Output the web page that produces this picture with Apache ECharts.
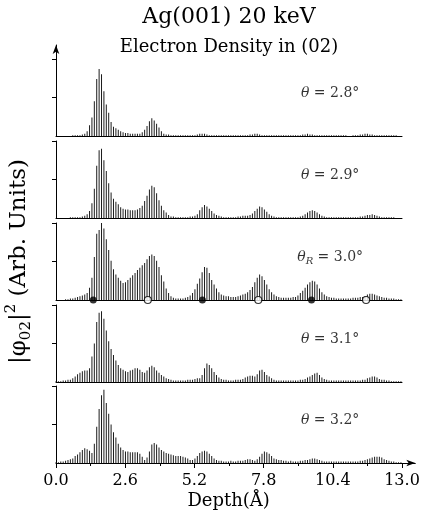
<!DOCTYPE html>
<html>
<head>
<meta charset="utf-8">
<script src="https://cdn.jsdelivr.net/npm/echarts@6/dist/echarts.min.js"></script>
<style>
  html, body { margin: 0; padding: 0; background: #fff; }
  #chart { width: 422px; height: 514px; }
</style>
</head>
<body>
<div id="chart"></div>
<script>
// sample spacing along depth (Å)
const depthStep = 0.09;

// |phi_02|^2 per panel (one bar every depthStep)
const theta28 = [
  0,0,0,0,0,0,0,0.01,0.01,0.01,
  0.01,0.02,0.03,0.06,0.14,0.24,0.45,0.74,0.87,0.80,
  0.58,0.41,0.30,0.18,0.12,0.10,0.08,0.06,0.05,0.04,
  0.04,0.03,0.03,0.03,0.03,0.03,0.05,0.08,0.13,0.19,
  0.23,0.20,0.16,0.11,0.06,0.03,0.02,0.02,0.01,0.01,
  0.01,0.01,0.01,0.01,0.01,0.01,0.01,0.01,0.01,0.02,
  0.03,0.03,0.03,0.02,0.01,0.01,0.01,0.01,0.01,0.01,
  0.01,0.01,0.01,0.01,0.01,0.01,0.01,0.01,0.01,0.01,
  0.01,0.02,0.02,0.03,0.03,0.02,0.01,0.01,0.01,0.01,
  0.01,0.01,0.01,0.01,0.01,0.01,0.01,0.01,0.01,0.01,
  0.01,0.01,0.01,0.02,0.02,0.03,0.02,0.02,0.01,0.01,
  0.01,0.01,0.01,0.01,0.01,0.01,0.01,0.01,0.01,0.01,
  0.01,0.01,0,0,0.01,0.01,0.01,0.02,0.02,0.03,
  0.03,0.02,0.02,0.01,0.01,0.01,0.01,0.01,0.01,0.01,
  0.01,0.01,0.01,0,0
];
const theta29 = [
  0,0,0,0,0,0,0.01,0.01,0.01,0.01,
  0.01,0.02,0.03,0.05,0.09,0.19,0.38,0.68,0.88,0.90,
  0.75,0.61,0.45,0.33,0.25,0.21,0.18,0.14,0.12,0.11,
  0.11,0.10,0.10,0.10,0.11,0.13,0.16,0.22,0.29,0.37,
  0.42,0.40,0.32,0.23,0.16,0.10,0.07,0.04,0.02,0.02,
  0.01,0.01,0.01,0.01,0.01,0.01,0.02,0.02,0.03,0.05,
  0.10,0.14,0.17,0.15,0.12,0.09,0.06,0.04,0.03,0.02,
  0.01,0.01,0.01,0.01,0.01,0.01,0.02,0.02,0.03,0.03,
  0.03,0.04,0.06,0.09,0.12,0.15,0.14,0.11,0.08,0.05,
  0.03,0.02,0.01,0.01,0.01,0.01,0.01,0.01,0.01,0.01,
  0.01,0.01,0.02,0.03,0.05,0.07,0.09,0.10,0.09,0.07,
  0.05,0.03,0.02,0.01,0.01,0.01,0.01,0.01,0.01,0.01,
  0.01,0.01,0.01,0.01,0.01,0.01,0.01,0.02,0.02,0.03,
  0.04,0.04,0.05,0.04,0.03,0.02,0.01,0.01,0.01,0.01,
  0.01,0.01,0,0,0
];
const theta30 = [
  0,0,0,0,0.01,0.01,0.02,0.02,0.03,0.04,
  0.05,0.06,0.07,0.09,0.16,0.29,0.56,0.86,0.91,1.0,
  0.93,0.79,0.65,0.51,0.40,0.33,0.29,0.25,0.22,0.23,
  0.26,0.29,0.32,0.35,0.39,0.42,0.45,0.48,0.53,0.57,
  0.59,0.57,0.51,0.43,0.32,0.24,0.15,0.09,0.05,0.03,
  0.02,0.02,0.02,0.02,0.03,0.04,0.06,0.09,0.14,0.21,
  0.28,0.36,0.43,0.42,0.35,0.26,0.20,0.15,0.10,0.07,
  0.06,0.05,0.05,0.04,0.04,0.04,0.05,0.06,0.07,0.08,
  0.10,0.13,0.17,0.23,0.29,0.33,0.31,0.26,0.20,0.14,
  0.10,0.07,0.05,0.04,0.03,0.03,0.03,0.03,0.03,0.04,
  0.04,0.06,0.09,0.12,0.16,0.20,0.23,0.25,0.24,0.20,
  0.15,0.10,0.07,0.05,0.04,0.03,0.03,0.02,0.02,0.02,
  0.02,0.02,0.02,0.02,0.03,0.03,0.03,0.04,0.04,0.05,
  0.07,0.08,0.08,0.07,0.06,0.05,0.04,0.03,0.03,0.02,
  0.02,0.02,0.01,0.01,0.01
];
const theta31 = [
  0.01,0.01,0.01,0.02,0.02,0.03,0.03,0.05,0.07,0.10,
  0.12,0.14,0.15,0.15,0.18,0.33,0.50,0.78,0.90,0.92,
  0.82,0.67,0.53,0.43,0.35,0.28,0.22,0.18,0.16,0.14,
  0.13,0.15,0.16,0.18,0.18,0.16,0.13,0.12,0.15,0.19,
  0.21,0.19,0.15,0.12,0.09,0.07,0.05,0.04,0.03,0.02,
  0.02,0.02,0.02,0.02,0.02,0.03,0.03,0.03,0.04,0.05,
  0.05,0.09,0.18,0.24,0.22,0.18,0.13,0.09,0.06,0.04,
  0.03,0.03,0.02,0.02,0.02,0.03,0.03,0.03,0.04,0.06,
  0.07,0.08,0.08,0.07,0.10,0.15,0.16,0.13,0.09,0.07,
  0.05,0.03,0.02,0.02,0.02,0.02,0.02,0.02,0.02,0.02,
  0.02,0.02,0.03,0.03,0.04,0.06,0.07,0.09,0.11,0.12,
  0.09,0.06,0.04,0.03,0.02,0.02,0.02,0.02,0.02,0.02,
  0.02,0.02,0.02,0.02,0.02,0.02,0.02,0.02,0.03,0.03,
  0.05,0.06,0.07,0.07,0.06,0.04,0.03,0.03,0.02,0.02,
  0.01,0.01,0.01,0.01,0.01
];
const theta32 = [
  0.01,0.01,0.02,0.02,0.03,0.04,0.05,0.06,0.09,0.11,
  0.14,0.17,0.19,0.18,0.16,0.13,0.25,0.47,0.70,0.88,
  0.95,0.78,0.64,0.50,0.40,0.33,0.25,0.20,0.17,0.15,
  0.15,0.14,0.14,0.14,0.14,0.12,0.08,0.04,0.07,0.15,
  0.24,0.26,0.24,0.20,0.17,0.15,0.13,0.12,0.11,0.10,
  0.09,0.09,0.09,0.08,0.07,0.06,0.04,0.04,0.06,0.09,
  0.13,0.15,0.16,0.15,0.12,0.09,0.06,0.04,0.03,0.03,
  0.02,0.02,0.02,0.03,0.02,0.02,0.03,0.03,0.03,0.04,
  0.05,0.05,0.04,0.03,0.05,0.08,0.12,0.15,0.14,0.12,
  0.09,0.06,0.05,0.04,0.04,0.03,0.03,0.02,0.03,0.02,
  0.02,0.02,0.03,0.03,0.04,0.04,0.05,0.06,0.06,0.05,
  0.04,0.03,0.02,0.02,0.02,0.02,0.02,0.02,0.02,0.02,
  0.02,0.02,0.02,0.02,0.02,0.02,0.02,0.03,0.03,0.04,
  0.05,0.06,0.07,0.08,0.08,0.08,0.07,0.05,0.04,0.03,
  0.02,0.02,0.01,0.01,0.01
];

const panelValues = [theta28, theta29, theta30, theta31, theta32];
const panelAngles = ["2.8", "2.9", "3.0", "3.1", "3.2"];
const resonancePanel = 2;

// atomic plane markers on the resonance panel (depth, Å)
const filledMarkers = [1.4, 5.5, 9.6];
const openMarkers = [3.45, 7.6, 11.65];

const tickLabels = [0, 2.6, 5.2, 7.8, 10.4, 13.0];
const minorTicks = [1.3, 3.9, 6.5, 9.1, 11.7];

const serif = '"DejaVu Serif", serif';
const chart = echarts.init(document.getElementById("chart"));

// layout
const left = 56;
const width = 346;
const tops = [45, 141, 223, 305, 386];
const heights = [91, 77, 77, 77, 77];
const last = panelValues.length - 1;

const grids = tops.map((t, k) => ({
  left: left,
  top: t,
  width: k === last ? width * 13.5 / 13 : width,
  height: heights[k],
  containLabel: false,
  outerBoundsMode: "none"
}));

const xAxes = tops.map((t, k) => ({
  type: "value",
  gridIndex: k,
  min: 0,
  max: k === last ? 13.5 : 13,
  axisLine: {
    show: true,
    onZero: false,
    symbol: k === last ? ["none", "arrow"] : "none",
    symbolSize: [5, 9],
    lineStyle: { color: "#000", width: 1 }
  },
  axisTick: {
    show: k === last,
    customValues: tickLabels,
    length: 5,
    lineStyle: { color: "#000" }
  },
  axisLabel: {
    show: k === last,
    customValues: tickLabels,
    formatter: (v) => v.toFixed(1),
    margin: 10,
    color: "#000",
    fontFamily: serif,
    fontSize: 16
  },
  splitLine: { show: false },
  name: k === last ? "Depth(Å)" : "",
  nameLocation: "middle",
  nameGap: 29,
  nameTextStyle: { color: "#000", fontFamily: serif, fontSize: 18, padding: [0, 14, 0, 0] }
}));
// minor ticks of the depth axis
xAxes.push({
  type: "value",
  gridIndex: last,
  min: 0,
  max: 13.5,
  position: "bottom",
  axisLine: { show: false },
  axisTick: { show: true, customValues: minorTicks, length: 3, lineStyle: { color: "#000" } },
  axisLabel: { show: false },
  splitLine: { show: false }
});

const yAxes = tops.map((t, k) => ({
  type: "value",
  gridIndex: k,
  min: 0,
  max: k === 0 ? 1.18 : 1,
  axisLine: {
    show: true,
    onZero: false,
    symbol: k === 0 ? ["none", "arrow"] : "none",
    symbolSize: [5, 9],
    lineStyle: { color: "#000", width: 1 }
  },
  axisTick: { show: true, customValues: [0.5, 1], length: 4, lineStyle: { color: "#000" } },
  axisLabel: { show: false },
  splitLine: { show: false },
  name: k === resonancePanel ? "|φ{s|02}|{p|2} (Arb. Units)" : "",
  nameLocation: "middle",
  nameRotate: 90,
  nameGap: 22,
  nameTextStyle: {
    color: "#000",
    fontFamily: serif,
    fontSize: 23,
    lineHeight: 30,
    rich: {
      s: { fontFamily: serif, fontSize: 15, color: "#000", verticalAlign: "bottom", lineHeight: 30 },
      p: { fontFamily: serif, fontSize: 15, color: "#000", verticalAlign: "top", lineHeight: 30 }
    }
  }
}));

const series = [];
panelValues.forEach((vals, k) => {
  series.push({
    type: "bar",
    xAxisIndex: k,
    yAxisIndex: k,
    barWidth: 1,
    silent: true,
    itemStyle: { color: "#1c1c1c" },
    data: vals.map((v, i) => [+(i * depthStep).toFixed(2), v])
  });
  const sub = k === resonancePanel ? "{r|R}" : "";
  series.push({
    type: "scatter",
    xAxisIndex: k,
    yAxisIndex: k,
    symbolSize: 1,
    silent: true,
    itemStyle: { color: "transparent" },
    data: [[10.3, 0.55]],
    label: {
      show: true,
      position: "inside",
      formatter: "{t|θ}" + sub + " = " + panelAngles[k] + "°",
      color: "#000",
      fontFamily: serif,
      fontSize: 14,
      rich: {
        t: { fontFamily: serif, fontSize: 14, fontStyle: "italic", color: "#000" },
        r: { fontFamily: serif, fontSize: 10, fontStyle: "italic", color: "#000", verticalAlign: "bottom", padding: [8, 0, 0, 0] }
      }
    }
  });
});
series.push({
  type: "scatter",
  xAxisIndex: resonancePanel,
  yAxisIndex: resonancePanel,
  symbolSize: 7,
  clip: false,
  z: 5,
  itemStyle: { color: "#000" },
  data: filledMarkers.map((d) => [d, 0])
});
series.push({
  type: "scatter",
  xAxisIndex: resonancePanel,
  yAxisIndex: resonancePanel,
  symbolSize: 7,
  clip: false,
  z: 5,
  itemStyle: { color: "#fff", borderColor: "#000", borderWidth: 1.2 },
  data: openMarkers.map((d) => [d, 0])
});

chart.setOption({
  animation: false,
  backgroundColor: "#fff",
  textStyle: { fontFamily: serif },
  graphic: [
    {
      type: "text",
      x: 229,
      y: 6,
      style: { text: "Ag(001) 20 keV", font: "22px " + serif, fill: "#000", textAlign: "center", verticalAlign: "top" }
    },
    {
      type: "text",
      x: 229,
      y: 38,
      style: { text: "Electron Density in (02)", font: "18px " + serif, fill: "#000", textAlign: "center", verticalAlign: "top" }
    }
  ],
  grid: grids,
  xAxis: xAxes,
  yAxis: yAxes,
  series: series
});
</script>
</body>
</html>
